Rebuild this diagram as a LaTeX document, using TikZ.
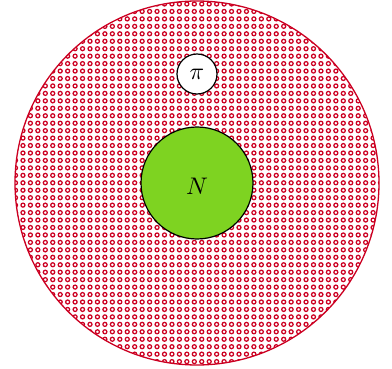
\documentclass[tikz,border=0pt]{standalone}
\definecolor{crim}{RGB}{204,0,34}
\definecolor{leaf}{RGB}{126,211,33}
\tikzset{
  ring/.style={draw=crim, line width=1.25pt},
  ball/.style={circle, draw=black, line width=1.2pt, inner sep=0pt}
}
\begin{document}
\begin{tikzpicture}[x=1pt,y=-1pt]
\useasboundingbox (0,0) rectangle (392,369);
\fill[white] (0,0) rectangle (392,369);
\begin{scope}
\clip (197,183) circle (182);
\foreach \i in {0,...,49}{
  \foreach \j in {0,...,49}{
    \draw[ring] (15.5+\i*7.45, 4+\j*7.45) circle (2.0);
  }
}
\end{scope}
\node[draw=crim, circle, line width=1.3pt, minimum size=364pt, inner sep=0pt] (outer) at (197,183) {};
\node[ball, fill=leaf, minimum size=112pt] (N) at (197,183) {\raisebox{-12pt}[0pt][0pt]{\scalebox{2.4}{$N$}}};
\node[ball, fill=white, minimum size=40pt] (pi) at (197,74) {\scalebox{2.4}{$\pi$}};
\end{tikzpicture}
\end{document}
